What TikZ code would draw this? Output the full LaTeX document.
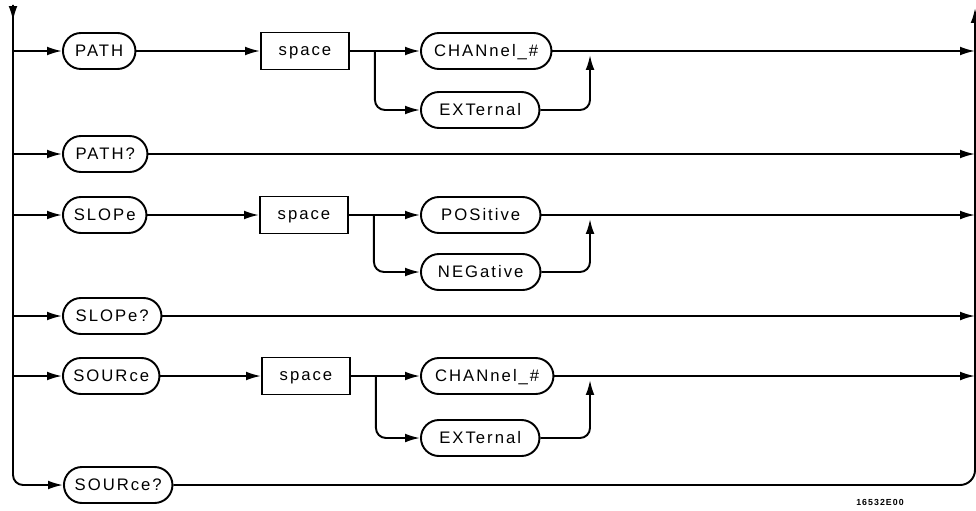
\documentclass[tikz,border=0pt]{standalone}
\usepackage{fontspec}
\usepackage{tikz}
\usetikzlibrary{shapes.misc,arrows.meta}
\newfontfamily\hpfont[LetterSpace=12]{Liberation Sans}
\newcommand\pxu{0.02cm}

\tikzset{
  keyword/.style={draw, rounded rectangle, line width=1.1pt, minimum height=36*\pxu,
    inner xsep=1pt, anchor=west, text height=6.8pt, text depth=0pt,
    font=\hpfont\fontsize{9.5}{11}\selectfont},
  spacebox/.style={draw, rectangle, line width=1.1pt, minimum height=37*\pxu,
    minimum width=88*\pxu, anchor=west, text height=4.9pt, text depth=0pt,
    font=\hpfont\fontsize{9.5}{11}\selectfont},
  flow/.style={line width=1.1pt, -{Latex[length=8.5pt,width=5pt]}},
  plainline/.style={line width=1.1pt},
}

\begin{document}
\begin{tikzpicture}[x=0.02cm, y=-0.02cm]
\useasboundingbox (0,0) rectangle (976,510);

% spines
\coordinate (ltop) at (13,5);
\coordinate (rtop) at (975,8);

% PATH
\node[keyword, minimum width=76*\pxu] (path) at (62,51) {PATH};
\node[spacebox] (pathsp) at (260,51) {space};
\node[keyword, minimum width=134*\pxu] (pathch) at (420,51) {CHANnel\_\#};
\node[keyword, minimum width=122*\pxu] (pathext) at (420,110) {EXTernal};
\coordinate (pathmg) at (590,51);
\node[keyword, minimum width=88*\pxu] (pathq) at (62,154) {PATH?};

% SLOPe
\node[keyword, minimum width=87*\pxu] (slope) at (62,215) {SLOPe};
\node[spacebox] (slopesp) at (259,215) {space};
\node[keyword, minimum width=123*\pxu] (slopepos) at (420,215) {POSitive};
\node[keyword, minimum width=123*\pxu] (slopeneg) at (420,272) {NEGative};
\coordinate (slopemg) at (590,215);
\node[keyword, minimum width=102*\pxu] (slopeq) at (62,316) {SLOPe?};

% SOURce
\node[keyword, minimum width=100*\pxu] (source) at (62,376) {SOURce};
\node[spacebox] (sourcesp) at (261,376) {space};
\node[keyword, minimum width=136*\pxu] (sourcech) at (420,376) {CHANnel\_\#};
\node[keyword, minimum width=122*\pxu] (sourceext) at (420,438) {EXTernal};
\coordinate (sourcemg) at (590,376);
\node[keyword, minimum width=112*\pxu] (sourceq) at (63,485) {SOURce?};

\node[font=\hpfont\bfseries\fontsize{5}{6}\selectfont] (figid) at (880,502) {16532E00};

% left spine and entries
\draw[flow] (ltop) -- ++(0,16);
\draw[flow, rounded corners=0.2cm] (ltop) |- (sourceq.west);
\foreach \n in {path,pathq,slope,slopeq,source}
  \draw[flow] (ltop |- \n.west) -- (\n.west);

% keyword to space, then the two choices
\foreach \k/\s/\a/\b/\m in {path/pathsp/pathch/pathext/pathmg,
    slope/slopesp/slopepos/slopeneg/slopemg,
    source/sourcesp/sourcech/sourceext/sourcemg} {
  \draw[flow] (\k.east) -- (\s.west);
  \draw[flow] (\s.east) -- (\a.west);
  \draw[flow, rounded corners=0.2cm] ([xshift=25*\pxu]\s.east) |- (\b.west);
  \draw[flow, rounded corners=0.2cm] (\b.east) -| ([yshift=-4*\pxu]\m);
}

% exits to right spine
\foreach \n in {pathch,pathq,slopepos,slopeq,sourcech}
  \draw[flow] (\n.east) -- (rtop |- \n.east);
\draw[flow, rounded corners=0.3cm] (sourceq.east) -| (rtop);
\end{tikzpicture}
\end{document}
